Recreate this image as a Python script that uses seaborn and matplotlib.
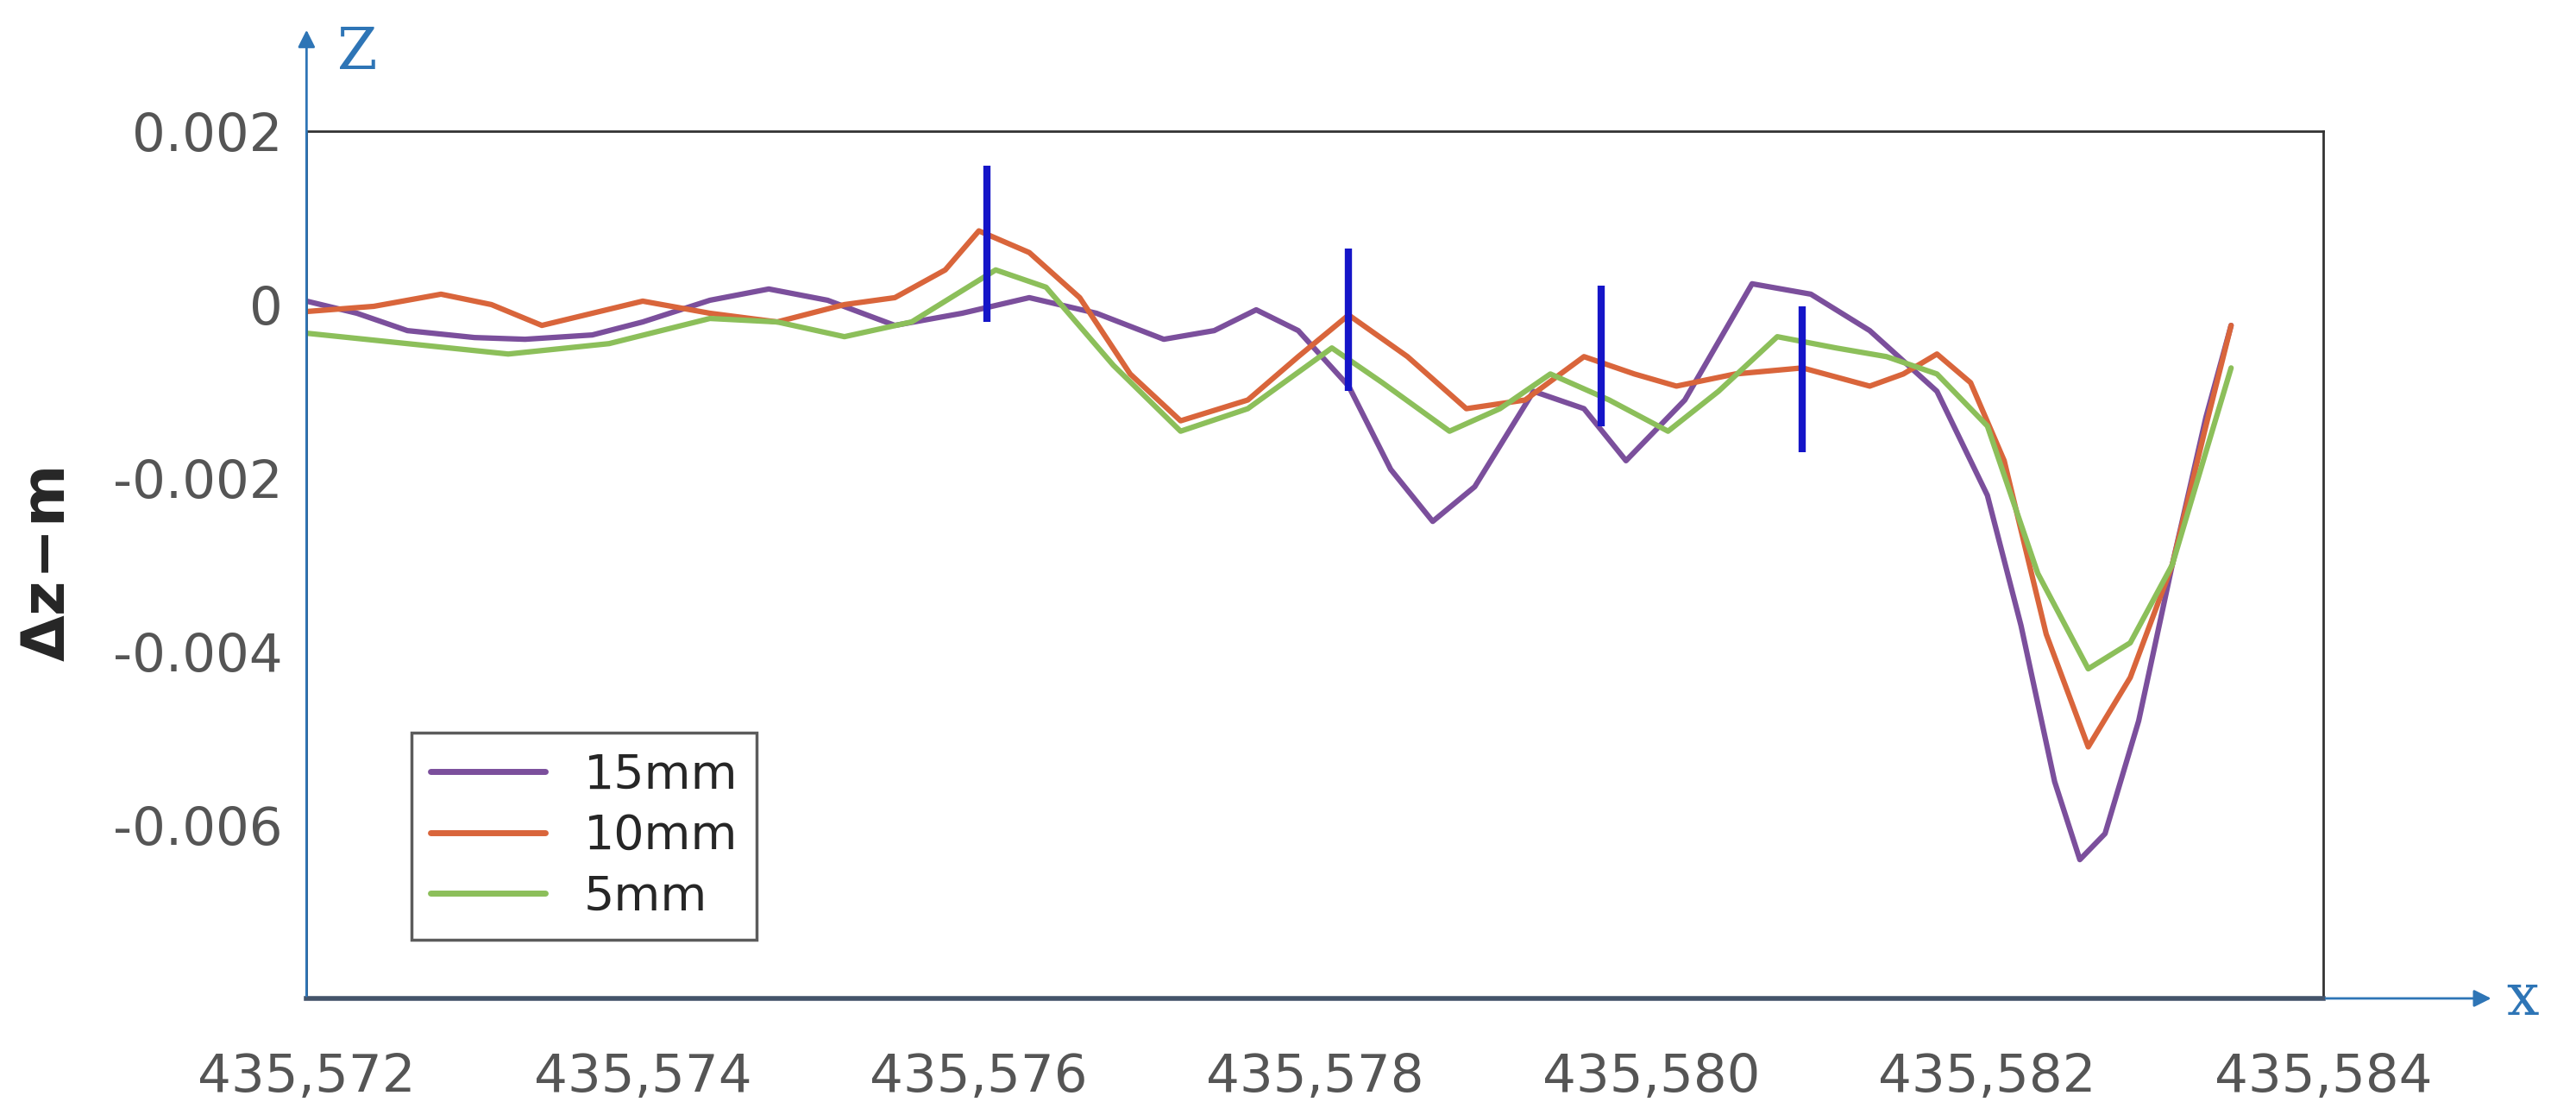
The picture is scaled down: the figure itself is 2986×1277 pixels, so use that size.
import numpy as np
import pandas as pd
import matplotlib
matplotlib.use("Agg")
import matplotlib.pyplot as plt
import seaborn as sns

# values (x offset from 435,000 ; dz in m)
x15 = [572.0, 572.3, 572.6, 573.0, 573.3, 573.7, 574.0, 574.4, 574.75, 575.1, 575.5, 575.9, 576.3, 576.7, 577.1, 577.4, 577.65, 577.9, 578.2, 578.45, 578.7, 578.95, 579.3, 579.6, 579.85, 580.2, 580.6, 580.95, 581.3, 581.7, 582.0, 582.2, 582.4, 582.55, 582.7, 582.9, 583.1, 583.3, 583.45]
z15 = [0.00004, -0.0001, -0.0003, -0.00038, -0.0004, -0.00035, -0.0002, 0.00005, 0.00018, 0.00005, -0.00024, -0.0001, 0.00008, -0.0001, -0.0004, -0.0003, -0.00006, -0.0003, -0.00094, -0.0019, -0.0025, -0.0021, -0.001, -0.0012, -0.0018, -0.0011, 0.00024, 0.00012, -0.0003, -0.001, -0.0022, -0.0037, -0.0055, -0.0064, -0.0061, -0.0048, -0.003, -0.0013, -0.00024]
x10 = [572.0, 572.4, 572.8, 573.1, 573.4, 573.7, 574.0, 574.4, 574.8, 575.2, 575.5, 575.8, 576.0, 576.3, 576.6, 576.9, 577.2, 577.6, 577.9, 578.2, 578.55, 578.9, 579.25, 579.6, 579.9, 580.15, 580.5, 580.9, 581.3, 581.5, 581.7, 581.9, 582.1, 582.35, 582.6, 582.85, 583.1, 583.3, 583.45]
z10 = [-0.00008, -0.00002, 0.00012, 0.0, -0.00024, -0.0001, 0.00004, -0.0001, -0.0002, 0.0, 0.00008, 0.0004, 0.00085, 0.0006, 0.00008, -0.0008, -0.00134, -0.0011, -0.0006, -0.00012, -0.0006, -0.0012, -0.0011, -0.0006, -0.0008, -0.00094, -0.0008, -0.00073, -0.00094, -0.0008, -0.00057, -0.0009, -0.0018, -0.0038, -0.0051, -0.0043, -0.003, -0.0014, -0.00024]
x5 = [572.0, 572.6, 573.2, 573.8, 574.4, 574.8, 575.2, 575.6, 576.1, 576.4, 576.8, 577.2, 577.6, 578.1, 578.4, 578.8, 579.1, 579.4, 579.75, 580.1, 580.4, 580.75, 581.1, 581.4, 581.7, 582.0, 582.3, 582.6, 582.85, 583.1, 583.3, 583.45]
z5 = [-0.00033, -0.00045, -0.00057, -0.00045, -0.00016, -0.0002, -0.00037, -0.0002, 0.0004, 0.0002, -0.0007, -0.00146, -0.0012, -0.0005, -0.0009, -0.00146, -0.0012, -0.0008, -0.0011, -0.00146, -0.001, -0.00037, -0.0005, -0.0006, -0.0008, -0.0014, -0.0031, -0.0042, -0.0039, -0.003, -0.0017, -0.00073]
labels = ["15mm", "10mm", "5mm"]
colors = ["#7b4f9c", "#d9653b", "#8cbf5a"]

mark_x = [576.05, 578.2, 579.7, 580.9]
mark_lo = [-0.0002, -0.001, -0.0014, -0.0017]
mark_hi = [0.0016, 0.00065, 0.00022, -0.00002]

xticks = [572, 574, 576, 578, 580, 582, 584]
xticklabels = ["435,572", "435,574", "435,576", "435,578", "435,580", "435,582", "435,584"]
yticks = [0.002, 0, -0.002, -0.004, -0.006]
yticklabels = ["0.002", "0", "-0.002", "-0.004", "-0.006"]

df = pd.concat([
    pd.DataFrame({"x": xs, "z": zs, "s": lab})
    for xs, zs, lab in zip([x15, x10, x5], [z15, z10, z5], labels)
])

sns.set_style("white")
fig = plt.figure(figsize=(29.86, 12.77), dpi=100)
ax = fig.add_axes([0.119, 0.094, 0.783, 0.787])
sns.lineplot(data=df, x="x", y="z", hue="s", palette=colors, hue_order=labels,
             sort=False, linewidth=4.5, ax=ax)
ax.vlines(mark_x, mark_lo, mark_hi, color="#1515c8", linewidth=6)

ax.set_xlim(572, 584)
ax.set_ylim(-0.008, 0.002)
ax.set_xticks(xticks)
ax.set_xticklabels(xticklabels)
ax.set_yticks(yticks)
ax.set_yticklabels(yticklabels)
ax.tick_params(labelsize=44, labelcolor="#555555", direction="in", length=6, color="#777777")
ax.tick_params(axis="x", pad=45)
ax.tick_params(axis="y", pad=20)
ax.set_xlabel("")
ax.set_ylabel(r"$\mathbf{\Delta z\!-\!m}$", fontsize=50, labelpad=30)
for s in ["top", "right", "left"]:
    ax.spines[s].set_color("#333333")
    ax.spines[s].set_linewidth(2)
ax.spines["bottom"].set_color("#44546a")
ax.spines["bottom"].set_linewidth(4)

leg = ax.legend(loc="lower left", bbox_to_anchor=(0.04, 0.04), fontsize=40, frameon=True,
                fancybox=False, edgecolor="#333333", handlelength=2.4, labelspacing=0.3)
leg.get_frame().set_linewidth(2.5)
for l in leg.get_lines():
    l.set_linewidth(5)

# coordinate arrows
blue = "#2e75b6"
fig.add_artist(matplotlib.patches.FancyArrowPatch((0.119, 0.094), (0.119, 0.975), transform=fig.transFigure,
               arrowstyle="-|>", mutation_scale=30, color=blue, linewidth=2))
fig.add_artist(matplotlib.patches.FancyArrowPatch((0.902, 0.094), (0.968, 0.094), transform=fig.transFigure,
               arrowstyle="-|>", mutation_scale=30, color=blue, linewidth=2))
fig.text(0.131, 0.952, "Z", color=blue, fontsize=48, family="DejaVu Serif", va="center")
fig.text(0.973, 0.094, "x", color=blue, fontsize=48, family="DejaVu Serif", va="center")

fig.savefig("out.png", dpi=100)
